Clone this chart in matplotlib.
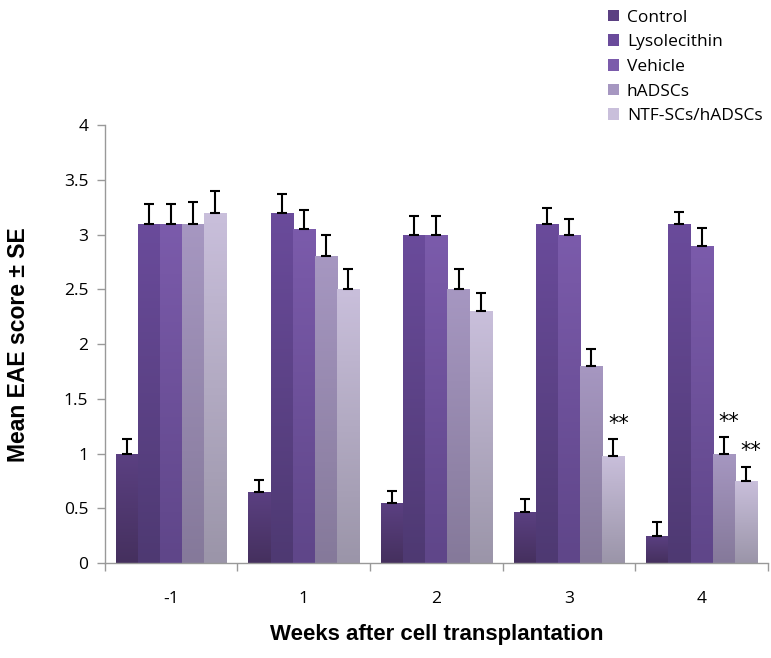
import numpy as np
import matplotlib.pyplot as plt
from matplotlib.colors import LinearSegmentedColormap
from matplotlib.patches import Patch

weeks = ['-1', '1', '2', '3', '4']
groups = ['Control', 'Lysolecithin', 'Vehicle', 'hADSCs', 'NTF-SCs/hADSCs']

control = [1.0, 0.65, 0.55, 0.47, 0.25]
lysolecithin = [3.1, 3.2, 3.0, 3.1, 3.1]
vehicle = [3.1, 3.05, 3.0, 3.0, 2.9]
hadscs = [3.1, 2.8, 2.5, 1.8, 1.0]
ntf = [3.2, 2.5, 2.3, 0.98, 0.75]

control_se = [0.13, 0.11, 0.11, 0.12, 0.13]
lysolecithin_se = [0.18, 0.17, 0.17, 0.14, 0.11]
vehicle_se = [0.18, 0.17, 0.17, 0.14, 0.16]
hadscs_se = [0.2, 0.2, 0.19, 0.16, 0.15]
ntf_se = [0.2, 0.19, 0.17, 0.15, 0.13]

# significance marks: (week index, group index)
stars = [(3, 4), (4, 3), (4, 4)]

values = [control, lysolecithin, vehicle, hadscs, ntf]
errors = [control_se, lysolecithin_se, vehicle_se, hadscs_se, ntf_se]

top_cols = ['#5b4082', '#6a4b9b', '#7b5bab', '#a697c1', '#c9bfdb']
bot_cols = ['#45305e', '#4e3972', '#5f4689', '#85799a', '#9b95a9']

plt.rcParams['font.family'] = ['Open Sans', 'DejaVu Sans']

fig = plt.figure(figsize=(7.71, 6.58), dpi=100)
ax = fig.add_axes([0.136, 0.144, 0.86, 0.666])

x = np.arange(len(weeks))
width = 0.167
offsets = (np.arange(5) - 2) * width

for i in range(5):
    bars = ax.bar(x + offsets[i], values[i], width, color=top_cols[i], zorder=2,
                  linewidth=0)
    cmap = LinearSegmentedColormap.from_list('g%d' % i, [bot_cols[i], top_cols[i]])
    grad = np.linspace(0, 1, 100).reshape(-1, 1)
    for b in bars:
        bx, by = b.get_x(), b.get_y()
        im = ax.imshow(grad, cmap=cmap, origin='lower', aspect='auto',
                       extent=[bx, bx + b.get_width(), by, by + b.get_height()],
                       zorder=2.5)
        im.set_clip_path(b)
    ax.errorbar(x + offsets[i], values[i], yerr=[np.zeros(5), errors[i]],
                fmt='none', ecolor='black', elinewidth=1.5, capsize=3.6,
                capthick=1.5, zorder=3)

for wi, gi in stars:
    top = values[gi][wi] + errors[gi][wi]
    ax.text(x[wi] + offsets[gi] + 0.04, top + 0.05, '**', ha='center',
            va='bottom', fontsize=15, family='DejaVu Sans')

ax.set_xlim(-0.5, 4.5)
ax.set_ylim(0, 4)
ax.set_yticks(np.arange(0, 4.01, 0.5))
ax.set_yticklabels(['0', '0.5', '1', '1.5', '2', '2.5', '3', '3.5', '4'])
ax.set_xticks(x)
ax.set_xticklabels(weeks)
ax.set_xticks(np.arange(-0.5, 4.6, 1), minor=True)
ax.tick_params(axis='x', which='major', length=0, pad=20, labelsize=12.5)
ax.tick_params(axis='x', which='minor', length=6, color='#999999', width=1)
ax.tick_params(axis='y', length=6, color='#999999', width=1, labelsize=12.5, pad=6)

for s in ['top', 'right']:
    ax.spines[s].set_visible(False)
for s in ['left', 'bottom']:
    ax.spines[s].set_color('#999999')
    ax.spines[s].set_linewidth(1)

ax.set_xlabel('Weeks after cell transplantation', fontsize=16, fontweight='bold',
              family='Liberation Sans', labelpad=12)
ax.set_ylabel('Mean EAE score \u00b1 SE', fontsize=16.5, fontweight='bold',
              family='Liberation Sans', labelpad=24)

handles = [Patch(facecolor=top_cols[i], label=groups[i]) for i in range(5)]
fig.legend(handles=handles, loc='upper left', bbox_to_anchor=(0.776, 1.0),
           frameon=False, fontsize=12.5, handlelength=0.65, handleheight=0.65,
           handletextpad=0.45, labelspacing=0.5, borderaxespad=0.15)

fig.savefig('out.png', dpi=100)
